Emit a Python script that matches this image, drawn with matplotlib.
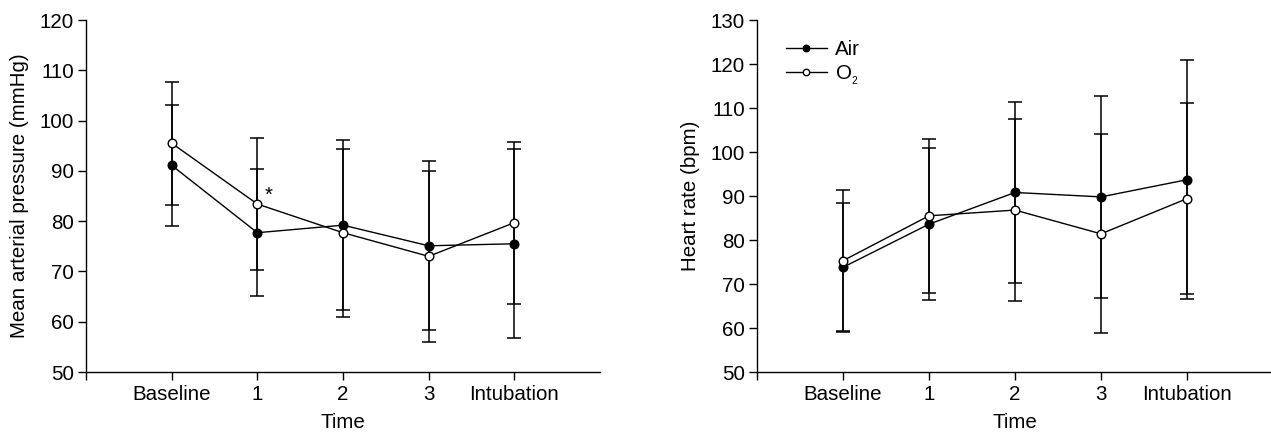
from matplotlib import pyplot as plt
import numpy as np

plt.rcParams['font.family'] = ['Liberation Sans', 'DejaVu Sans']
FONT_SIZE = 14.8
plt.rcParams['font.size'] = FONT_SIZE
plt.rcParams['axes.linewidth'] = 1.0
plt.rcParams['xtick.major.size'] = 5.5
plt.rcParams['ytick.major.size'] = 5.5
plt.rcParams['xtick.major.width'] = 1.0
plt.rcParams['ytick.major.width'] = 1.0
plt.rcParams['xtick.major.pad'] = 4
plt.rcParams['ytick.major.pad'] = 3

# data
categories = ['Baseline', '1', '2', '3', 'Intubation']

map_air = [91.1, 77.7, 79.2, 75.1, 75.5]
map_air_sd = [12.0, 12.6, 16.9, 16.8, 18.8]
map_o2 = [95.5, 83.4, 77.7, 73.0, 79.7]
map_o2_sd = [12.2, 13.1, 16.7, 17.0, 16.1]

hr_air = [73.8, 83.6, 90.8, 89.8, 93.7]
hr_air_sd = [14.7, 17.2, 20.6, 23.0, 27.2]
hr_o2 = [75.3, 85.5, 86.8, 81.4, 89.4]
hr_o2_sd = [16.0, 17.5, 20.6, 22.6, 21.7]

x = np.arange(len(categories))

fig = plt.figure(figsize=(12.71, 4.37), dpi=100)
ax1 = fig.add_axes([86/1271, 1-372/437, 514/1271, 352/437])
ax2 = fig.add_axes([757/1271, 1-372/437, 516/1271, 352/437])


def draw(ax, air, air_sd, o2, o2_sd):
    ax.errorbar(x, air, yerr=air_sd, fmt='none', ecolor='black',
                elinewidth=1.1, capsize=4.7, capthick=1.1, zorder=2)
    ax.errorbar(x, o2, yerr=o2_sd, fmt='none', ecolor='black',
                elinewidth=1.1, capsize=4.7, capthick=1.1, zorder=2)
    ax.plot(x, air, '-o', color='black', lw=1.0, ms=6.2,
            mfc='black', mec='black', mew=1.0, label='Air', zorder=3)
    ax.plot(x, o2, '-o', color='black', lw=1.0, ms=6.2,
            mfc='white', mec='black', mew=1.0, label=r'O$_\mathregular{_2}$', zorder=4)
    ax.set_xlim(-1, 5)
    ax.set_xticks([-1] + list(x))
    ax.set_xticklabels([''] + categories)
    ax.spines['top'].set_visible(False)
    ax.spines['right'].set_visible(False)
    ax.set_xlabel('Time', labelpad=6)


draw(ax1, map_air, map_air_sd, map_o2, map_o2_sd)
ax1.set_ylim(50, 120)
ax1.set_yticks(range(50, 121, 10))
ax1.set_ylabel('Mean arterial pressure (mmHg)', labelpad=8)
ax1.text(1.13, 85.2, '*', ha='center', va='center', fontsize=FONT_SIZE)

draw(ax2, hr_air, hr_air_sd, hr_o2, hr_o2_sd)
ax2.set_ylim(50, 130)
ax2.set_yticks(range(50, 131, 10))
ax2.set_ylabel('Heart rate (bpm)', labelpad=8)
ax2.legend(loc='upper left', bbox_to_anchor=(0.02, 0.995), frameon=False,
           handlelength=2.0, handletextpad=0.4, labelspacing=0.2,
           markerscale=0.75)

plt.savefig('out.png', dpi=100)
